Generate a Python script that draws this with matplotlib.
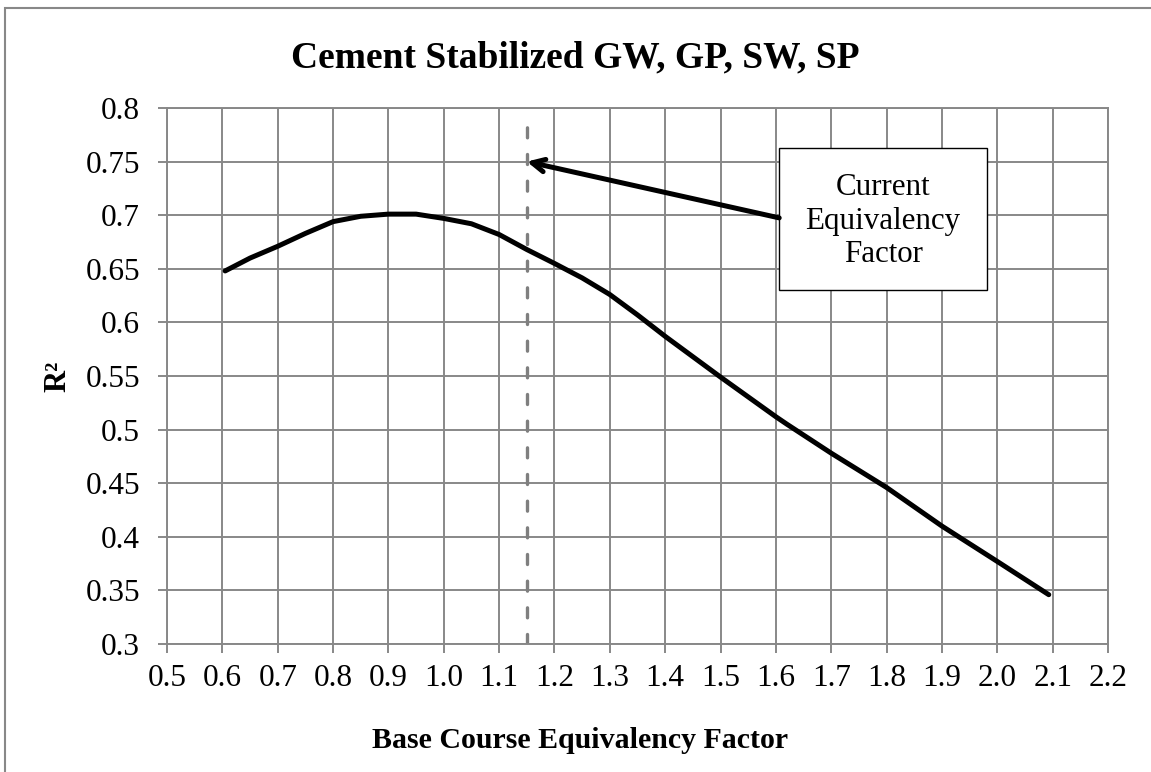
import matplotlib
matplotlib.use("Agg")
import matplotlib.pyplot as plt
from matplotlib.patches import Rectangle

plt.rcParams['font.family'] = ['Liberation Serif', 'DejaVu Serif']

# Data
factor = [0.605, 0.65, 0.7, 0.75, 0.8, 0.85, 0.9, 0.95, 1.0, 1.05, 1.1, 1.15,
          1.2, 1.25, 1.3, 1.35, 1.4, 1.5, 1.6, 1.62, 1.7, 1.8, 1.9, 2.0, 2.093]
r2 = [0.648, 0.660, 0.671, 0.683, 0.694, 0.699, 0.701, 0.701, 0.697, 0.692, 0.682, 0.668,
      0.655, 0.6415, 0.626, 0.607, 0.587, 0.549, 0.512, 0.505, 0.478, 0.446, 0.410, 0.377, 0.346]
current_factor = 1.15
x_ticks = [0.5, 0.6, 0.7, 0.8, 0.9, 1.0, 1.1, 1.2, 1.3, 1.4, 1.5, 1.6, 1.7, 1.8, 1.9, 2.0, 2.1, 2.2]
y_ticks = [0.3, 0.35, 0.4, 0.45, 0.5, 0.55, 0.6, 0.65, 0.7, 0.75, 0.8]
title = "Cement Stabilized GW, GP, SW, SP"
xlabel = "Base Course Equivalency Factor"
ylabel = "R\u00b2"
note = "Current\nEquivalency\nFactor"

W, H = 1151, 772
fig = plt.figure(figsize=(W / 100, H / 100), dpi=100)
ax = fig.add_axes([167 / W, (H - 644) / H, (1108 - 167) / W, (644 - 108) / H])

grid_c = '#888888'
ax.set_xlim(0.5, 2.2)
ax.set_ylim(0.3, 0.8)
ax.set_xticks(x_ticks)
ax.set_xticklabels([f"{v:.1f}" for v in x_ticks])
ax.set_yticks(y_ticks)
ax.set_yticklabels([f"{v:g}" for v in y_ticks])
ax.grid(True, color=grid_c, linewidth=1.4)
ax.set_axisbelow(True)
for s in ax.spines.values():
    s.set_color(grid_c)
    s.set_linewidth(1.4)
ax.tick_params(axis='both', direction='out', length=6.5, width=1.4, color=grid_c,
               labelsize=22.5, labelcolor='black')
ax.tick_params(axis='x', pad=8)
ax.tick_params(axis='y', pad=13)

ax.plot([current_factor, current_factor], [0.3, 0.788], color='#7f7f7f', lw=2.4,
        dashes=(3.0, 5.0), dash_capstyle='round', zorder=2)
ax.plot(factor, r2, color='black', lw=3.6, solid_capstyle='round',
        solid_joinstyle='round', zorder=3)

# annotation box
bx0, bx1, by0, by1 = 1.606, 1.9815, 0.6303, 0.7627
ax.add_patch(Rectangle((bx0, by0), bx1 - bx0, by1 - by0, facecolor='white',
                       edgecolor='black', lw=1.0, zorder=4))
ax.text((bx0 + bx1) / 2, (by0 + by1) / 2 - 0.002, note, ha='center', va='center',
        fontsize=22.3, linespacing=1.2, zorder=5)
ax.annotate('', xy=(current_factor, 0.75), xytext=(bx0, 0.6975),
            arrowprops=dict(arrowstyle='->,head_length=0.9,head_width=0.45',
                            color='black', lw=3.6, shrinkA=0, shrinkB=0), zorder=5)

fig.text(575 / W, 1 - 58 / H, title, ha='center', va='center', fontsize=27,
         fontweight='bold')
fig.text(580 / W, 1 - 740 / H, xlabel, ha='center', va='center', fontsize=21.5,
         fontweight='bold')
fig.text(58 / W, 1 - 376 / H, ylabel, ha='center', va='center', fontsize=22,
         fontweight='bold', rotation=90)

fig.patches.append(Rectangle((5 / W, -0.05), 1.1, 1 - 8 / H + 0.05,
                             transform=fig.transFigure, fill=False,
                             edgecolor='#888888', lw=1.5))

fig.savefig('out.png', dpi=100)
